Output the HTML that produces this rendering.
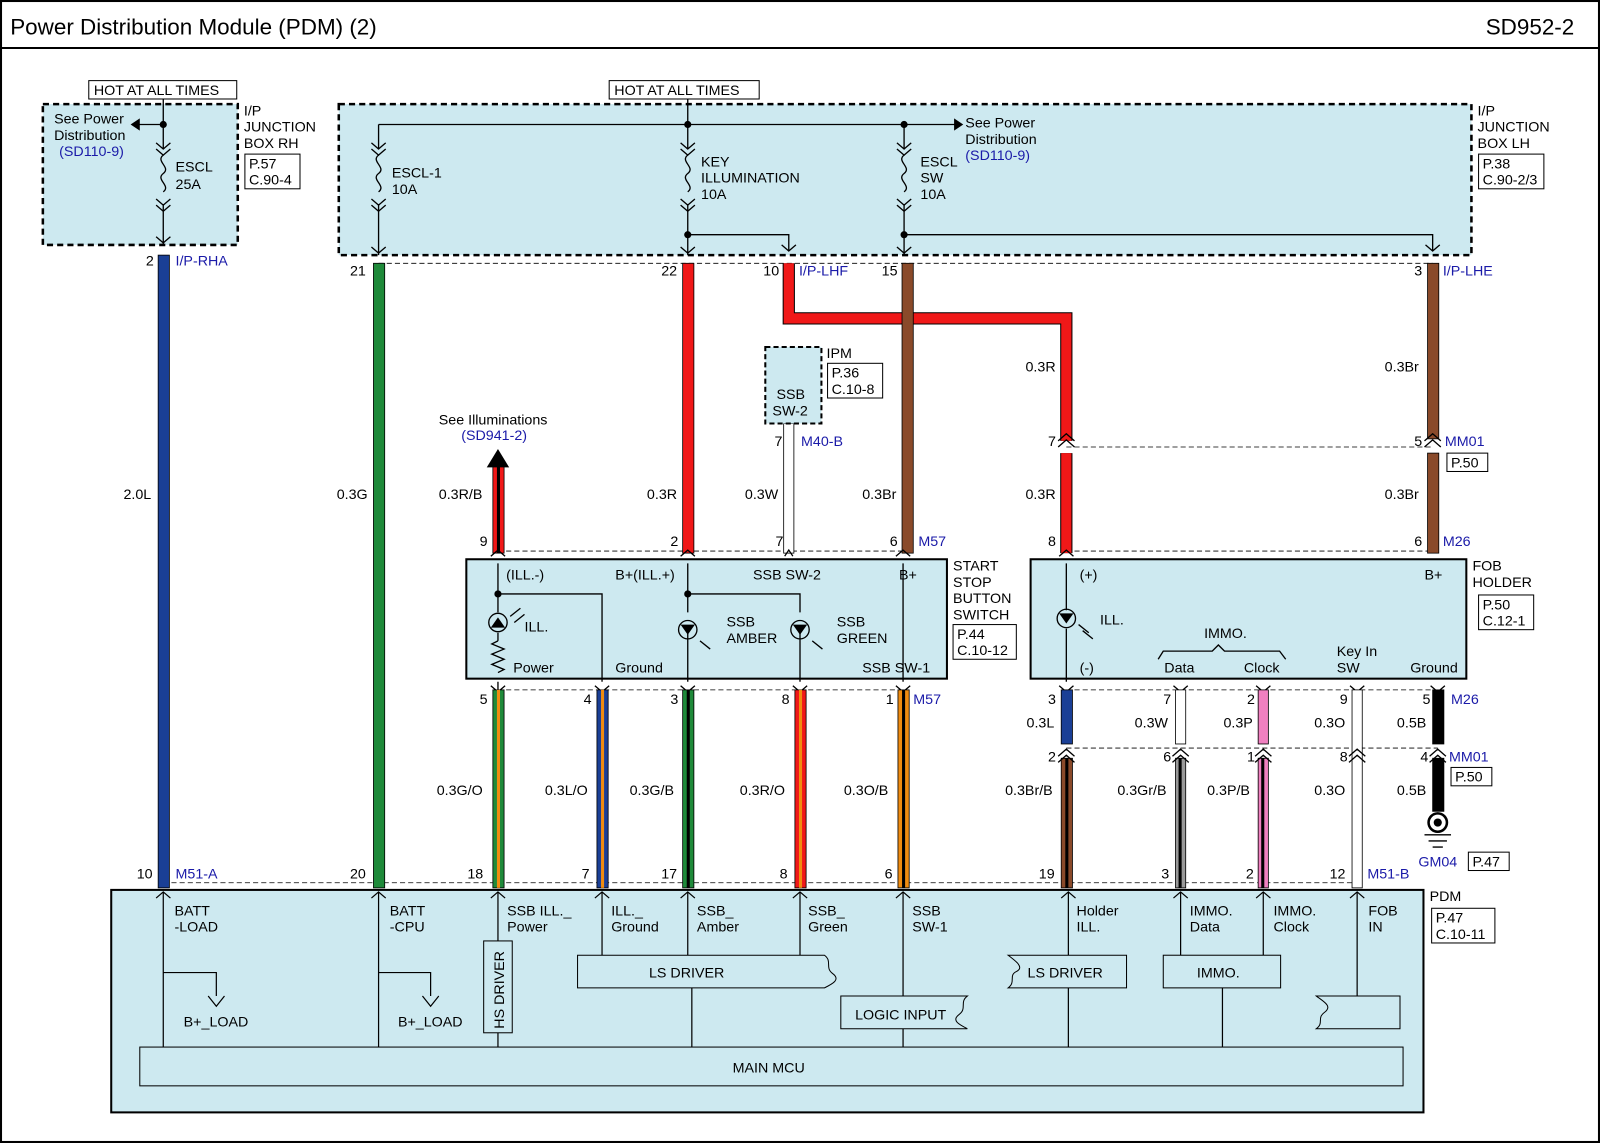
<!DOCTYPE html>
<html><head><meta charset="utf-8"><style>
html,body{margin:0;padding:0;background:#fff}
svg{display:block}
text{font-family:"Liberation Sans",sans-serif;font-size:14px;fill:#000}
.b{fill:#1a1aa8}
</style></head><body>
<svg width="1600" height="1143" viewBox="0 0 1568 1120" preserveAspectRatio="none" xmlns="http://www.w3.org/2000/svg">
<rect x="1" y="1" width="1566" height="1118" fill="#fff" stroke="#000" stroke-width="2"/>
<line x1="0" y1="47" x2="1568" y2="47" stroke="#000" stroke-width="2"/>
<text x="10" y="34" style="font-size:22px">Power Distribution Module (PDM) (2)</text>
<text x="1456" y="34" style="font-size:22px">SD952-2</text>

<rect x="42" y="102" width="191" height="138" fill="#cde9f0" stroke="#000" stroke-width="2.5" stroke-dasharray="6,4"/>
<rect x="332" y="102" width="1110" height="148" fill="#cde9f0" stroke="#000" stroke-width="2.5" stroke-dasharray="6,4"/>
<rect x="87" y="79" width="145" height="18" fill="#fff" stroke="#000"/><text x="92" y="93">HOT AT ALL TIMES</text>
<rect x="597" y="79" width="147" height="18" fill="#fff" stroke="#000"/><text x="602" y="93">HOT AT ALL TIMES</text>
<text x="239" y="113">I/P</text><text x="239" y="129">JUNCTION</text><text x="239" y="145">BOX RH</text>
<rect x="240" y="151" width="54" height="34" fill="#fff" stroke="#000"/><text x="244" y="165">P.57</text><text x="244" y="181">C.90-4</text>
<text x="1448" y="113">I/P</text><text x="1448" y="129">JUNCTION</text><text x="1448" y="145">BOX LH</text>
<rect x="1449" y="151" width="64" height="34" fill="#fff" stroke="#000"/><text x="1453" y="165">P.38</text><text x="1453" y="181">C.90-2/3</text>

<g stroke="#000" stroke-width="1.3" fill="none">
<path d="M160 97V145M160 200V240M371 122V145M371 200V250M674 97V145M674 200V250M886 122V145M886 200V250"/>
<path d="M135 122H160M371 122H940M674 230H773V245M886 230H1404V245"/>
<path d="M153 140l7 6 7-6M153 146l7 6 7-6M153 195l7 6 7-6M153 201l7 6 7-6"/>
<path d="M364 140l7 6 7-6M364 146l7 6 7-6M364 195l7 6 7-6M364 201l7 6 7-6"/>
<path d="M667 140l7 6 7-6M667 146l7 6 7-6M667 195l7 6 7-6M667 201l7 6 7-6"/>
<path d="M879 140l7 6 7-6M879 146l7 6 7-6M879 195l7 6 7-6M879 201l7 6 7-6"/>
<path d="M160 152c-8 6 8 12 0 18s8 12 0 18"/><path d="M371 152c-8 6 8 12 0 18s8 12 0 18"/>
<path d="M674 152c-8 6 8 12 0 18s8 12 0 18"/><path d="M886 152c-8 6 8 12 0 18s8 12 0 18"/>
<path d="M153 232l7 6 7-6M364 242l7 6 7-6M667 242l7 6 7-6M766 240l7 6 7-6M879 242l7 6 7-6M1397 240l7 6 7-6"/>
</g>
<g fill="#000"><circle cx="160" cy="122" r="3.5"/><circle cx="674" cy="122" r="3.5"/><circle cx="886" cy="122" r="3.5"/><circle cx="674" cy="230" r="3.5"/><circle cx="886" cy="230" r="3.5"/>
<path d="M128 122l9-6v12z"/><path d="M944 122l-9-6v12z"/></g>
<text x="53" y="121">See Power</text><text x="53" y="137">Distribution</text><text x="58" y="153" class="b">(SD110-9)</text>
<text x="946" y="125">See Power</text><text x="946" y="141">Distribution</text><text x="946" y="157" class="b">(SD110-9)</text>
<text x="172" y="168">ESCL</text><text x="172" y="185">25A</text>
<text x="384" y="174">ESCL-1</text><text x="384" y="190">10A</text>
<text x="687" y="163">KEY</text><text x="687" y="179">ILLUMINATION</text><text x="687" y="195">10A</text>
<text x="902" y="163">ESCL</text><text x="902" y="179">SW</text><text x="902" y="195">10A</text>

<g stroke="#000" stroke-dasharray="5,3" stroke-width="0.8" fill="none">
<path d="M371 258H1404M1045 438H1404M488 540H890M1045 540H1404M488 676H890M1045 676H1409M1045 733H1409M160 865H1330"/>
</g>

<rect x="155" y="250" width="11" height="620" fill="#1a3f96" stroke="#000" stroke-width="0.8"/>
<rect x="366" y="258" width="11" height="612" fill="#1f8a3a" stroke="#000" stroke-width="0.8"/>
<rect x="669" y="258" width="11" height="284" fill="#f01818" stroke="#000" stroke-width="0.8"/>
<path d="M773 258V312H1045V432M1045 444V542" stroke="#000" stroke-width="12" fill="none"/>
<path d="M773 258V312H1045V432M1045 444V542" stroke="#f01818" stroke-width="10" fill="none"/>
<rect x="884" y="258" width="11" height="284" fill="#8a4a2a" stroke="#000" stroke-width="0.8"/>
<rect x="1399" y="258" width="11" height="172" fill="#8a4a2a" stroke="#000" stroke-width="0.8"/>
<rect x="1399" y="444" width="11" height="98" fill="#8a4a2a" stroke="#000" stroke-width="0.8"/>
<rect x="483" y="456" width="11" height="86" fill="#f01818" stroke="#000" stroke-width="0.8"/><rect x="487" y="456" width="3" height="86" fill="#000"/>
<path d="M477 458L488 440L499 458z"/>
<rect x="768" y="415" width="10" height="127" fill="#fff" stroke="#000" stroke-width="0.8"/>
<g stroke="#000" stroke-width="1.3" fill="none"><path d="M1037 432l8-7 8 7M1037 438l8-7 8 7M1396 432l8-7 8 7M1396 438l8-7 8 7"/></g>

<rect x="750" y="340" width="55" height="75" fill="#cde9f0" stroke="#000" stroke-width="2" stroke-dasharray="5,3"/>
<text x="761" y="391">SSB</text><text x="757" y="407">SW-2</text>
<text x="810" y="351">IPM</text>
<rect x="811" y="356" width="54" height="34" fill="#fff" stroke="#000"/><text x="815" y="370">P.36</text><text x="815" y="386">C.10-8</text>
<text x="759" y="437">7</text><text x="785" y="437" class="b">M40-B</text>
<text x="430" y="416">See Illuminations</text><text x="452" y="431" class="b">(SD941-2)</text>

<text x="143" y="260">2</text><text x="172" y="260" class="b">I/P-RHA</text>
<text x="343" y="270">21</text><text x="648" y="270">22</text><text x="748" y="270">10</text><text x="783" y="270" class="b">I/P-LHF</text>
<text x="864" y="270">15</text><text x="1386" y="270">3</text><text x="1414" y="270" class="b">I/P-LHE</text>
<text x="121" y="489">2.0L</text><text x="330" y="489">0.3G</text><text x="430" y="489">0.3R/B</text><text x="634" y="489">0.3R</text>
<text x="730" y="489">0.3W</text><text x="845" y="489">0.3Br</text><text x="1005" y="489">0.3R</text><text x="1357" y="489">0.3Br</text>
<text x="1005" y="364">0.3R</text><text x="1357" y="364">0.3Br</text>
<text x="1027" y="437">7</text><text x="1386" y="437">5</text><text x="1416" y="437" class="b">MM01</text>
<rect x="1418" y="444" width="40" height="18" fill="#fff" stroke="#000"/><text x="1422" y="458">P.50</text>
<text x="470" y="535">9</text><text x="657" y="535">2</text><text x="760" y="535">7</text><text x="872" y="535">6</text><text x="900" y="535" class="b">M57</text>
<text x="1027" y="535">8</text><text x="1386" y="535">6</text><text x="1414" y="535" class="b">M26</text>

<rect x="457" y="548" width="471" height="117" fill="#cde9f0" stroke="#000" stroke-width="2"/>
<text x="934" y="559">START</text><text x="934" y="575">STOP</text><text x="934" y="591">BUTTON</text><text x="934" y="607">SWITCH</text>
<rect x="934" y="612" width="62" height="34" fill="#fff" stroke="#000"/><text x="938" y="626">P.44</text><text x="938" y="642">C.10-12</text>
<text x="496" y="568">(ILL.-)</text><text x="603" y="568">B+(ILL.+)</text><text x="738" y="568">SSB SW-2</text><text x="881" y="568">B+</text>
<text x="503" y="659">Power</text><text x="603" y="659">Ground</text><text x="845" y="659">SSB SW-1</text>
<text x="514" y="619">ILL.</text><text x="712" y="614">SSB</text><text x="712" y="630">AMBER</text><text x="820" y="614">SSB</text><text x="820" y="630">GREEN</text>
<g stroke="#000" stroke-width="1.3" fill="none">
<path d="M488 552V600M488 620V628M488 668V676M488 582H590V668M674 552V600M674 620V668M674 582H784V600M784 620V668M885 552V668"/>
<path d="M488 628l-6 3 12 5-12 5 12 5-12 5 12 5-6 3"/>
<circle cx="488" cy="610" r="9"/><circle cx="674" cy="617" r="9"/><circle cx="784" cy="617" r="9"/>
<path d="M481 545l7-6 7 6M667 545l7-6 7 6M769 545l4-6 4 6M878 545l7-6 7 6M481 672l7 6 7-6M583 672l7 6 7-6M667 672l7 6 7-6M777 672l7 6 7-6M878 672l7 6 7-6"/>
<path d="M500 604l10-8M504 610l10-8M686 628l10 8M796 628l10 8"/>
</g>
<g fill="#000"><circle cx="488" cy="582" r="3.5"/><circle cx="674" cy="582" r="3.5"/>
<path d="M481 615h14l-7-10z"/><path d="M667 612h14l-7 10z"/><path d="M777 612h14l-7 10z"/></g>

<rect x="1010" y="548" width="427" height="117" fill="#cde9f0" stroke="#000" stroke-width="2"/>
<text x="1443" y="559">FOB</text><text x="1443" y="575">HOLDER</text>
<rect x="1449" y="583" width="54" height="34" fill="#fff" stroke="#000"/><text x="1453" y="597">P.50</text><text x="1453" y="613">C.12-1</text>
<text x="1058" y="568">(+)</text><text x="1396" y="568">B+</text><text x="1058" y="659">(-)</text>
<text x="1078" y="612">ILL.</text><text x="1180" y="625">IMMO.</text>
<text x="1141" y="659">Data</text><text x="1219" y="659">Clock</text><text x="1310" y="643">Key In</text><text x="1310" y="659">SW</text><text x="1382" y="659">Ground</text>
<g stroke="#000" stroke-width="1.3" fill="none">
<path d="M1045 552V598M1045 616V668M1135 646l5-8h48l6-6 6 6h54l6 8"/>
<circle cx="1045" cy="606" r="9"/><path d="M1057 612l10 8M1061 618l10 8"/>
<path d="M1038 545l7-6 7 6M1038 672l7 6 7-6M1150 672l7 6 7-6M1231 672l7 6 7-6M1323 672l7 6 7-6M1402 672l7 6 7-6"/>
</g>
<path d="M1038 601h14l-7 10z"/>

<g stroke="#000" stroke-width="0.8">
<rect x="483" y="676" width="11" height="194" fill="#1f8a3a"/><rect x="487" y="676" width="3" height="194" fill="#f08c10" stroke="none"/>
<rect x="585" y="676" width="11" height="194" fill="#1a3f96"/><rect x="589" y="676" width="3" height="194" fill="#f08c10" stroke="none"/>
<rect x="669" y="676" width="11" height="194" fill="#1f8a3a"/><rect x="673" y="676" width="3" height="194" fill="#000" stroke="none"/>
<rect x="779" y="676" width="11" height="194" fill="#f01818"/><rect x="783" y="676" width="3" height="194" fill="#f08c10" stroke="none"/>
<rect x="880" y="676" width="11" height="194" fill="#f08c10"/><rect x="884" y="676" width="3" height="194" fill="#000" stroke="none"/>
<rect x="1040" y="676" width="11" height="53" fill="#1a3f96"/>
<rect x="1040" y="743" width="11" height="127" fill="#8a4a2a"/><rect x="1044" y="743" width="3" height="127" fill="#000" stroke="none"/>
<rect x="1152" y="676" width="10" height="53" fill="#fff"/>
<rect x="1152" y="743" width="10" height="127" fill="#999"/><rect x="1155" y="743" width="3" height="127" fill="#000" stroke="none"/>
<rect x="1233" y="676" width="10" height="53" fill="#f080c0"/>
<rect x="1233" y="743" width="10" height="127" fill="#f080c0"/><rect x="1236" y="743" width="3" height="127" fill="#000" stroke="none"/>
<rect x="1325" y="676" width="10" height="194" fill="#fff"/>
<rect x="1404" y="676" width="11" height="53" fill="#000"/>
<rect x="1404" y="743" width="11" height="52" fill="#000"/>
</g>
<g stroke="#000" stroke-width="1.3" fill="none">
<path d="M1037 741l8-7 8 7M1037 747l8-7 8 7M1149 741l8-7 8 7M1149 747l8-7 8 7M1230 741l8-7 8 7M1230 747l8-7 8 7M1322 741l8-7 8 7M1322 747l8-7 8 7M1401 741l8-7 8 7M1401 747l8-7 8 7"/>
<circle cx="1409" cy="806" r="9" stroke-width="2.5"/><path d="M1396 818h26M1400 824h18M1404 830h10"/>
</g>
<circle cx="1409" cy="806" r="4"/>
<text x="470" y="690">5</text><text x="572" y="690">4</text><text x="657" y="690">3</text><text x="766" y="690">8</text><text x="868" y="690">1</text><text x="895" y="690" class="b">M57</text>
<text x="1027" y="690">3</text><text x="1140" y="690">7</text><text x="1222" y="690">2</text><text x="1313" y="690">9</text><text x="1394" y="690">5</text><text x="1422" y="690" class="b">M26</text>
<text x="1006" y="713">0.3L</text><text x="1112" y="713">0.3W</text><text x="1199" y="713">0.3P</text><text x="1288" y="713">0.3O</text><text x="1369" y="713">0.5B</text>
<text x="1027" y="746">2</text><text x="1140" y="746">6</text><text x="1222" y="746">1</text><text x="1313" y="746">8</text><text x="1392" y="746">4</text><text x="1420" y="746" class="b">MM01</text>
<rect x="1422" y="752" width="40" height="18" fill="#fff" stroke="#000"/><text x="1426" y="766">P.50</text>
<text x="985" y="779">0.3Br/B</text><text x="1095" y="779">0.3Gr/B</text><text x="1183" y="779">0.3P/B</text><text x="1288" y="779">0.3O</text><text x="1369" y="779">0.5B</text>
<text x="428" y="779">0.3G/O</text><text x="534" y="779">0.3L/O</text><text x="617" y="779">0.3G/B</text><text x="725" y="779">0.3R/O</text><text x="827" y="779">0.3O/B</text>
<text x="1390" y="849" class="b">GM04</text><rect x="1439" y="835" width="40" height="18" fill="#fff" stroke="#000"/><text x="1443" y="849">P.47</text>
<text x="134" y="861">10</text><text x="172" y="861" class="b">M51-A</text><text x="343" y="861">20</text><text x="458" y="861">18</text><text x="570" y="861">7</text>
<text x="648" y="861">17</text><text x="764" y="861">8</text><text x="867" y="861">6</text><text x="1018" y="861">19</text><text x="1138" y="861">3</text><text x="1221" y="861">2</text>
<text x="1303" y="861">12</text><text x="1340" y="861" class="b">M51-B</text>

<rect x="109" y="872" width="1286" height="218" fill="#cde9f0" stroke="#000" stroke-width="2"/>
<text x="1401" y="883">PDM</text>
<rect x="1403" y="890" width="62" height="34" fill="#fff" stroke="#000"/><text x="1407" y="904">P.47</text><text x="1407" y="920">C.10-11</text>
<g stroke="#000" stroke-width="1.2" fill="none">
<path d="M160 875V1026M371 875V1026M488 875V922M488 1012V1026M590 875V936M674 875V936M784 875V936M885 875V976M885 1008V1026M1047 875V936M1047 968V1026M1157 875V938M1238 875V938M1198 968V1026M1330 875V976M678 968V1026"/>
<path d="M160 953H212V976M204 976l8 10 8-10M371 953H422V976M414 976l8 10 8-10"/>
<path d="M153 880l7-6 7 6M364 880l7-6 7 6M481 880l7-6 7 6M583 880l7-6 7 6M667 880l7-6 7 6M777 880l7-6 7 6M878 880l7-6 7 6M1040 880l7-6 7 6M1150 880l7-6 7 6M1231 880l7-6 7 6M1323 880l7-6 7 6"/>
</g>
<g fill="#cde9f0" stroke="#000" stroke-width="1">
<rect x="137" y="1026" width="1238" height="38"/>
<rect x="474" y="922" width="28" height="90"/>
<path d="M566 936H808c8 6 0 12 8 18s0 10-8 14H566z"/>
<path d="M824 976H948c-8 6 0 12-8 18s0 10 8 14H824z"/>
<path d="M988 936H1104V968H988c8-6 0-12 8-16s0-10-8-16z"/>
<rect x="1140" y="936" width="115" height="32"/>
<path d="M1290 976H1372V1008H1290c8-6 0-10 8-16s0-10-8-16z"/>
</g>
<text x="718" y="1051">MAIN MCU</text><text x="636" y="958">LS DRIVER</text><text x="838" y="999">LOGIC INPUT</text>
<text x="1007" y="958">LS DRIVER</text><text x="1173" y="958">IMMO.</text>
<text transform="translate(494,1008) rotate(-90)">HS DRIVER</text>
<text x="180" y="1006">B+_LOAD</text><text x="390" y="1006">B+_LOAD</text>
<text x="171" y="897">BATT</text><text x="171" y="913">-LOAD</text><text x="382" y="897">BATT</text><text x="382" y="913">-CPU</text>
<text x="497" y="897">SSB ILL._</text><text x="497" y="913">Power</text><text x="599" y="897">ILL._</text><text x="599" y="913">Ground</text>
<text x="683" y="897">SSB_</text><text x="683" y="913">Amber</text><text x="792" y="897">SSB_</text><text x="792" y="913">Green</text>
<text x="894" y="897">SSB</text><text x="894" y="913">SW-1</text><text x="1055" y="897">Holder</text><text x="1055" y="913">ILL.</text>
<text x="1166" y="897">IMMO.</text><text x="1166" y="913">Data</text><text x="1248" y="897">IMMO.</text><text x="1248" y="913">Clock</text>
<text x="1341" y="897">FOB</text><text x="1341" y="913">IN</text>
</svg>
</body></html>
